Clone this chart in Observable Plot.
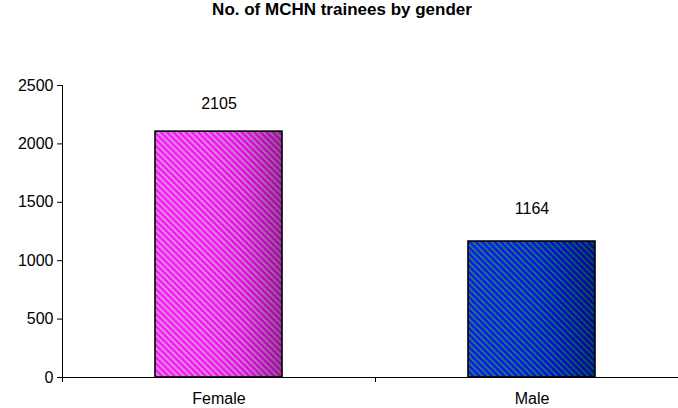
<!DOCTYPE html>
<html><head><meta charset="utf-8">
<script src="https://cdn.jsdelivr.net/npm/d3@7"></script>
<script src="https://cdn.jsdelivr.net/npm/@observablehq/plot@0.6"></script>
<style>
html,body{margin:0;padding:0;background:#fff;overflow:hidden;width:678px;height:408px}
#title{height:32px;line-height:33px;text-align:center;font:bold 17px "Liberation Sans",Arial,sans-serif;color:#000;width:678px;padding-left:6px;box-sizing:border-box}
#chart svg{display:block}
</style></head><body>
<div id="title">No. of MCHN trainees by gender</div>
<div id="chart"></div>
<script>
const genders = ["Female", "Male"];
const trainees = [2105, 1164];
const yTicks = [0, 500, 1000, 1500, 2000, 2500];
const stripeBase = ["#ff00ff", "#0000ff"];
const stripeAlt = ["#d886d8", "#0d7070"];

const data = genders.map((g, i) => ({gender: g, value: trainees[i], idx: i}));
const xRange = [62, 688];
const step = (xRange[1] - xRange[0]) / genders.length;
const font = '"Liberation Sans", Arial, sans-serif';

const marks = [];
data.forEach((d, i) => {
  marks.push(Plot.barY([d], {x: "gender", y: "value", fill: `url(#stripe${i})`}));
  marks.push(Plot.barY([d], {x: "gender", y: "value", fill: "url(#shade)", stroke: "#000", strokeWidth: 1.6}));
});

const plot = Plot.plot({
  width: 678, height: 376,
  marginTop: 53, marginBottom: 31, marginLeft: 62, marginRight: 0,
  style: {fontFamily: font, fontSize: "16px", color: "#000", background: "#fff"},
  x: {domain: genders, range: xRange, paddingInner: 0.594, paddingOuter: 0.297},
  y: {domain: [0, 2500]},
  marks: [
    ...marks,
    Plot.ruleY([0], {stroke: "#000", strokeWidth: 1}),
    Plot.ruleX(genders.slice(0, 1), {x: d => d, y1: () => 2500, y2: () => 0, dx: -step / 2, insetBottom: -5, stroke: "#000"}),
    Plot.ruleX(genders.slice(1), {x: d => d, y1: () => 0, y2: () => 0, dx: -step / 2, insetBottom: -5, stroke: "#000"}),
    Plot.axisY({ticks: yTicks, tickSize: 5, tickPadding: 4, tickFormat: d => String(d), fontSize: 16, label: null}),
    Plot.axisX({tickSize: 0, tickPadding: 15, fontSize: 16, label: null}),
    Plot.text(data.slice(0, 1), {x: "gender", y: "value", text: d => String(d.value), dy: -28, fontSize: 16, fill: "#000"}),
    Plot.text(data.slice(1), {x: "gender", y: "value", text: d => String(d.value), dy: -33, fontSize: 16, fill: "#000"})
  ]
});

const ns = "http://www.w3.org/2000/svg";
const defs = document.createElementNS(ns, "defs");
let html = "";
stripeBase.forEach((c, i) => {
  html += `<pattern id="stripe${i}" patternUnits="userSpaceOnUse" width="4.4" height="8" patternTransform="rotate(-45)">
    <rect width="4.4" height="8" fill="${c}"/><rect width="2.2" height="8" fill="${stripeAlt[i]}"/></pattern>`;
});
html += `<linearGradient id="shade" x1="0" y1="0" x2="1" y2="0">
  <stop offset="0" stop-color="#fff" stop-opacity="0.06"/>
  <stop offset="0.35" stop-color="#fff" stop-opacity="0.04"/>
  <stop offset="0.7" stop-color="#000" stop-opacity="0.08"/>
  <stop offset="1" stop-color="#000" stop-opacity="0.35"/></linearGradient>`;
defs.innerHTML = html;
plot.insertBefore(defs, plot.firstChild);
document.getElementById("chart").appendChild(plot);
</script>
</body></html>
